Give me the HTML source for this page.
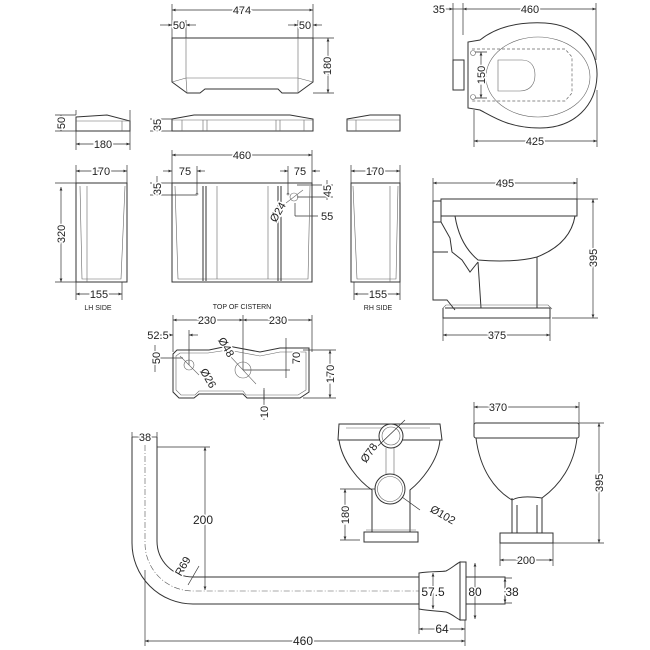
<!DOCTYPE html>
<html><head><meta charset="utf-8"><style>
html,body{margin:0;padding:0;background:#fff}
svg{display:block}
text{font-family:"Liberation Sans",sans-serif;font-size:11px;fill:#222;paint-order:stroke;stroke:#fff;stroke-width:3px}
.s{fill:none;stroke:#333;stroke-width:1}
.t{fill:none;stroke:#666;stroke-width:0.6}
.d{fill:none;stroke:#333;stroke-width:0.7}
.dash{fill:none;stroke:#555;stroke-width:0.6;stroke-dasharray:6 2 1 2}
.ds{fill:none;stroke:#666;stroke-width:0.7;stroke-dasharray:3 2}
</style></head><body>
<svg width="650" height="650" viewBox="0 0 650 650" xmlns="http://www.w3.org/2000/svg">
<defs>
<marker id="a" viewBox="0 0 10 10" refX="10" refY="5" markerWidth="5" markerHeight="5" orient="auto-start-reverse"><path d="M0,1 L10,5 L0,9z" fill="#333"/></marker>
</defs>
<g class="d" marker-start="url(#a)" marker-end="url(#a)">
<line x1="172" y1="10" x2="313" y2="10"/>
<line x1="328" y1="38" x2="328" y2="93"/>
<line x1="61" y1="115" x2="61" y2="131"/>
<line x1="76" y1="144" x2="130" y2="144"/>
<line x1="157" y1="119" x2="157" y2="131"/>
<line x1="172" y1="155" x2="312" y2="155"/>
<line x1="76" y1="171" x2="127" y2="171"/>
<line x1="61" y1="187" x2="61" y2="282"/>
<line x1="76" y1="294" x2="122" y2="294"/>
<line x1="351" y1="171" x2="400" y2="171"/>
<line x1="354" y1="294" x2="400" y2="294"/>
<line x1="173" y1="320" x2="243" y2="320"/>
<line x1="243" y1="320" x2="312" y2="320"/>
<line x1="330" y1="350" x2="330" y2="398"/>
<line x1="463" y1="9" x2="596" y2="9"/>
<line x1="481" y1="52" x2="481" y2="98"/>
<line x1="474" y1="141" x2="597" y2="141"/>
<line x1="433" y1="183" x2="577" y2="183"/>
<line x1="593" y1="199" x2="593" y2="318"/>
<line x1="443" y1="335" x2="550" y2="335"/>
<line x1="474" y1="407" x2="579" y2="407"/>
<line x1="599" y1="423" x2="599" y2="543"/>
<line x1="500" y1="560" x2="553" y2="560"/>
<line x1="345" y1="489" x2="345" y2="540"/>
<line x1="205" y1="447" x2="205" y2="590"/>
<line x1="419" y1="629" x2="465" y2="629"/>
<line x1="145" y1="641" x2="465" y2="641"/>
<line x1="433" y1="573" x2="433" y2="609"/>
<line x1="475" y1="563" x2="475" y2="619"/>
<line x1="505" y1="578" x2="505" y2="603"/>
</g>
<g class="d">
<line x1="160" y1="25" x2="172" y2="25" marker-end="url(#a)"/><line x1="186" y1="25" x2="196" y2="25" marker-start="url(#a)"/>
<line x1="288" y1="25" x2="298" y2="25" marker-end="url(#a)"/><line x1="313" y1="25" x2="322" y2="25" marker-start="url(#a)"/>
<line x1="163" y1="171" x2="172" y2="171" marker-end="url(#a)"/><line x1="197" y1="171" x2="205" y2="171" marker-start="url(#a)"/>
<line x1="280" y1="171" x2="288" y2="171" marker-end="url(#a)"/><line x1="312" y1="171" x2="320" y2="171" marker-start="url(#a)"/>
<line x1="157" y1="176" x2="157" y2="195"/>
<line x1="327" y1="180" x2="327" y2="200"/>
<line x1="295" y1="216" x2="318" y2="216"/>
<line x1="160" y1="335" x2="173" y2="335" marker-end="url(#a)"/><line x1="189" y1="335" x2="198" y2="335" marker-start="url(#a)"/>
<line x1="155" y1="345" x2="155" y2="372"/>
<line x1="286" y1="338" x2="286" y2="378"/>
<line x1="264" y1="390" x2="264" y2="420"/>
<line x1="453" y1="9" x2="463" y2="9"/><line x1="445" y1="9" x2="453" y2="9" marker-end="url(#a)"/>
<line x1="132" y1="437" x2="157" y2="437"/>
<path d="M172,4V38 M313,4V38 M186,20V38 M298,20V38 M313,38H334 M313,93H334
M76,110V115 M130,110V150 M76,131V150 M55,115H76 M55,131H76 M150,119H172 M150,131H172
M172,150V183 M312,150V183 M76,165V183 M127,165V183 M55,183H76 M55,282H76 M76,282V300 M122,282V300 M351,165V183 M400,165V300 M354,282V300
M197,166V194 M288,166V194 M150,195H197 M150,183H172 M297,185H333 M297,197H333 M295,203V216
M173,315V352 M312,315V352 M243,315V370 M189,330V365 M303,350H336 M303,398H336 M243,370H290 M155,358H183 M264,388V400
M463,3V35 M596,3V60 M453,3V62 M474,110V147 M597,90V147 M475,52H487 M475,98H487
M433,178V205 M577,178V205 M577,199H598 M552,318H598 M443,318V341 M550,318V341
M474,402V430 M579,402V430 M579,423H604 M553,543H604 M500,543V566 M553,543V566 M340,489H388 M340,540H360
M132,432V445 M157,432V445 M157,447H210 M145,570V646 M419,590V634 M465,620V646 M505,578H512 M505,603H512"/>
</g>
<g class="s">
<path d="M172,38H313V82L298,93H282L278,89H205L200,93H187L172,82Z"/>
<path class="t" d="M186,38V78H298V38 M172,82L186,78 M313,82L298,78 M187,93L186,78 M298,93L298,78"/>
<path d="M76,117L107,115L130,121V131H76Z"/><path class="t" d="M76,121H130 M122,121V131"/>
<path d="M172,119L194,115H290L313,119V131H172Z"/><path class="t" d="M172,120H313 M182,120V131 M203,120V131 M207,120V131 M276,120V131 M280,120V131 M304,120V131"/>
<path d="M347,119L370,115H400V131H347Z"/><path class="t" d="M347,120H400 M356,120V131"/>
<rect x="172" y="183" width="140" height="99"/>
<path class="t" d="M175,186L178,279H308L310,186 M217,186V279 M268,186V279"/>
<path d="M203,186V281 M206,186V281 M278,186V281 M281,186V281"/>
<circle cx="294" cy="197" r="4" class="t"/><path class="t" d="M286,203L303,190"/>
<circle cx="197" cy="194" r="1" class="t"/><circle cx="288" cy="194" r="1" class="t"/>
<rect x="76" y="183" width="51" height="99"/><path class="t" d="M80,186L82,279H121L125,186 M87,186V282"/>
<rect x="351" y="183" width="49" height="99"/><path class="t" d="M353,186L357,279H396L398,186 M390,186V282"/>
<path d="M177,350H209L228,346L260,352L280,348H309V392L300,398H247L243,394H199L194,398H179L173,392V354Z"/>
<path class="t" d="M180,353H208L228,350L260,356L280,352H306V390L298,395H246L243,391H199L195,395H181L176,390V356Z"/>
<circle cx="189" cy="365" r="5" class="t"/><circle cx="243" cy="370" r="8" class="t"/>
<path class="t" d="M180,356L199,375 M230,356L256,384"/>
</g>
<g class="s">
<path d="M480,40C500,24 525,22 545,23C580,25 598,50 597,76C596,105 575,128 540,128C510,128 495,118 480,110L468,108V42Z"/>
<ellipse cx="538" cy="77" rx="52" ry="40" class="t"/>
<path class="t" d="M498,60H522C532,60 535,68 535,75C535,84 530,91 520,91H498Z"/>
<path class="ds" d="M472,49H565L572,57V93L565,101H472"/>
<rect x="453" y="60" width="11" height="30"/>
<circle cx="473" cy="53" r="2.5" class="t"/><circle cx="473" cy="97" r="2.5" class="t"/>
</g>
<g class="s">
<path d="M441,199H577V216H441Z"/><rect x="433" y="201" width="8" height="21"/>
<path d="M455,216C458,235 466,250 478,260C500,262 522,261 537,257C560,248 572,234 575,216"/>
<path d="M433,222V300H447L455,310 M441,222L450,238L452,252L462,260L470,272L478,262 M478,262L481,308 M537,257V308 M433,252H448"/>
<path d="M445,308H550V318H443V308"/><path class="t" d="M443,308L446,305H548L552,309"/>
</g>
<g class="s">
<path d="M339,424H440L442,440H338Z"/>
<path d="M339,440C342,462 360,482 372,490V532 M440,440C438,462 420,482 410,490V532"/>
<path class="t" d="M346,428H430 M386,448V477 M394,448V477"/>
<path d="M364,532H418V542H364Z"/><path class="t" d="M366,530H416"/>
<circle cx="391" cy="436" r="12" fill="#fff"/><circle cx="391" cy="436" r="9" class="t"/>
<circle cx="390" cy="489" r="15" fill="#fff"/><circle cx="390" cy="489" r="12.5" class="t"/>
<path class="d" d="M378,446L405,420 M402,497L420,510"/>
</g>
<g class="s">
<rect x="474" y="423" width="105" height="15" rx="2"/>
<path d="M476,438C480,470 495,490 512,500C520,495 535,497 542,498C560,485 574,465 577,438"/>
<path d="M512,498V533 M542,498V533 M517,505V533 M537,505V533"/>
<path d="M500,533H553V543H500Z"/>
</g>
<g class="s">
<path d="M132,437V543A61,61 0 0 0 193,604H419"/>
<path d="M157,437V541A36,36 0 0 0 193,577H419"/>
<path class="dash" d="M145,445V542A48,48 0 0 0 193,591H419"/>
<path d="M419,573C430,571 440,572 446,571C452,568 456,564 460,562V620C456,618 452,614 446,612C440,611 430,611 419,609Z"/>
<rect x="460" y="562" width="6" height="58"/>
<path d="M466,577H505V604H466"/>
<path class="d" d="M188,585L199,566"/>
</g>
<text x="242" y="14" text-anchor="middle">474</text>
<text x="179" y="29" text-anchor="middle">50</text>
<text x="305" y="29" text-anchor="middle">50</text>
<text transform="translate(331,66) rotate(-90)" text-anchor="middle">180</text>
<text transform="translate(65,123) rotate(-90)" text-anchor="middle">50</text>
<text x="103" y="148" text-anchor="middle">180</text>
<text transform="translate(161,125) rotate(-90)" text-anchor="middle">35</text>
<text x="242" y="159" text-anchor="middle">460</text>
<text x="185" y="175" text-anchor="middle">75</text>
<text x="300" y="175" text-anchor="middle">75</text>
<text transform="translate(161,189) rotate(-90)" text-anchor="middle">35</text>
<text transform="translate(331,191) rotate(-90)" text-anchor="middle">45</text>
<text x="321" y="220">55</text>
<text transform="translate(281,214) rotate(-60)" text-anchor="middle">Ø24</text>
<text x="101" y="175" text-anchor="middle">170</text>
<text transform="translate(65,234) rotate(-90)" text-anchor="middle">320</text>
<text x="99" y="298" text-anchor="middle">155</text>
<text x="375" y="175" text-anchor="middle">170</text>
<text x="378" y="298" text-anchor="middle">155</text>
<text x="98" y="310" text-anchor="middle" style="font-size:7px">LH SIDE</text>
<text x="242" y="309" text-anchor="middle" style="font-size:7px">TOP OF CISTERN</text>
<text x="378" y="310" text-anchor="middle" style="font-size:7px">RH SIDE</text>
<text x="207" y="324" text-anchor="middle">230</text>
<text x="278" y="324" text-anchor="middle">230</text>
<text x="158" y="339" text-anchor="middle">52.5</text>
<text transform="translate(160,358) rotate(-90)" text-anchor="middle">50</text>
<text transform="translate(223,349) rotate(60)" text-anchor="middle">Ø48</text>
<text transform="translate(205,380) rotate(60)" text-anchor="middle">Ø26</text>
<text transform="translate(300,358) rotate(-90)" text-anchor="middle">70</text>
<text transform="translate(334,374) rotate(-90)" text-anchor="middle">170</text>
<text transform="translate(268,412) rotate(-90)" text-anchor="middle">10</text>
<text x="445" y="13" text-anchor="end">35</text>
<text x="530" y="13" text-anchor="middle">460</text>
<text transform="translate(485,75) rotate(-90)" text-anchor="middle">150</text>
<text x="535" y="145" text-anchor="middle">425</text>
<text x="505" y="187" text-anchor="middle">495</text>
<text transform="translate(597,258) rotate(-90)" text-anchor="middle">395</text>
<text x="497" y="339" text-anchor="middle">375</text>
<text x="498" y="411" text-anchor="middle">370</text>
<text transform="translate(603,483) rotate(-90)" text-anchor="middle">395</text>
<text x="526" y="564" text-anchor="middle">200</text>
<text transform="translate(349,515) rotate(-90)" text-anchor="middle">180</text>
<text transform="translate(372,455) rotate(-55)" text-anchor="middle">Ø78</text>
<text transform="translate(441,518) rotate(30)" text-anchor="middle">Ø102</text>
<text x="145" y="441" text-anchor="middle">38</text>
<text x="203" y="524" text-anchor="middle" style="font-size:12px">200</text>
<text transform="translate(186,568) rotate(-60)" text-anchor="middle">R69</text>
<text x="433" y="596" text-anchor="middle" style="font-size:12px">57.5</text>
<text x="475" y="596" text-anchor="middle" style="font-size:12px">80</text>
<text x="512" y="596" text-anchor="middle" style="font-size:12px">38</text>
<text x="442" y="633" text-anchor="middle" style="font-size:12px">64</text>
<text x="303" y="645" text-anchor="middle" style="font-size:12px">460</text>
</svg>
</body></html>
